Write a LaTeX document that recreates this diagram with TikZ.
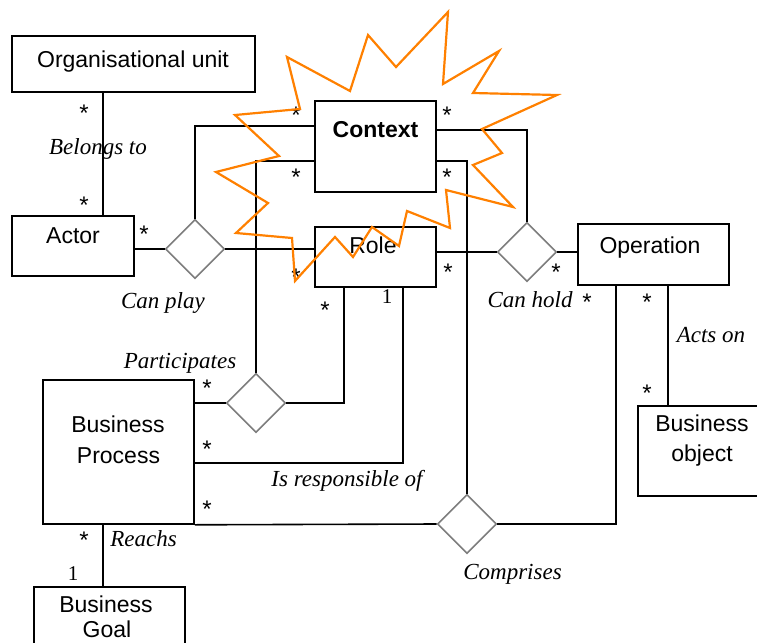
\documentclass[tikz,border=0pt]{standalone}
\usepackage{fontspec}
\setmainfont{Liberation Sans}
\newfontfamily\labfont{Liberation Serif}
\usetikzlibrary{shapes.geometric,calc}
\definecolor{burst}{RGB}{255,128,0}
\definecolor{dgray}{RGB}{125,125,125}
\begin{document}
\begin{tikzpicture}[x=1pt,y=-1pt,
  box/.style={draw, line width=1.6pt, rectangle, inner sep=0pt},
  rel/.style={draw=dgray, line width=1.6pt, diamond, inner sep=0pt, minimum width=59pt, minimum height=59pt},
  conn/.style={line width=1.6pt},
  btext/.style={font=\fontsize{23}{28}\selectfont, anchor=base, inner sep=0pt},
  lab/.style={font={\labfont\itshape\fontsize{23}{28}\selectfont}, anchor=base, inner sep=0pt},
  mult/.style={font=\fontsize{24}{28}\selectfont, anchor=base, inner sep=0pt, yshift=-13.5pt},
  one/.style={font={\labfont\fontsize{21}{24}\selectfont}, anchor=base, inner sep=0pt}
]
\useasboundingbox (0,0) rectangle (757,642);
% boxes
\node[box, minimum width=243pt, minimum height=56pt] (org) at (133.5,64) {};
\node[box, minimum width=122pt, minimum height=60pt] (actor) at (73,246) {};
\node[box, minimum width=121pt, minimum height=91pt] (context) at (375.5,146.5) {};
\node[box, minimum width=121pt, minimum height=60pt] (role) at (375.5,257) {};
\node[box, minimum width=151pt, minimum height=61pt] (operation) at (653.5,254.5) {};
\node[box, minimum width=128pt, minimum height=90pt] (bobject) at (702,451) {};
\node[box, minimum width=151pt, minimum height=144pt] (bprocess) at (118.5,452) {};
\node[box, minimum width=151pt, minimum height=63pt] (bgoal) at (109.5,618.5) {};
% box texts
\node[btext] (t-org) at (133,67) {Organisational unit};
\node[btext] (t-actor) at (73,243) {Actor};
\node[btext, font=\fontsize{23}{28}\selectfont\bfseries] (t-context) at (375.5,137) {Context};
\node[btext] (t-role) at (373,253) {Role};
\node[btext] (t-op) at (650,253) {Operation};
\node[btext] (t-bo1) at (702,431) {Business};
\node[btext] (t-bo2) at (702,461) {object};
\node[btext] (t-bp1) at (118,432) {Business};
\node[btext] (t-bp2) at (118.5,463) {Process};
\node[btext] (t-bg1) at (106,612) {Business};
\node[btext] (t-bg2) at (107,637) {Goal};
% relation diamonds
\node[rel] (canplay) at (195,249) {};
\node[rel] (canhold) at (527,252) {};
\node[rel] (particip) at (256,403) {};
\node[rel] (comprises) at (467,524) {};
% connectors
\coordinate (xa) at (103,0);
\coordinate (xo) at (668,0);
\draw[conn] (org.south -| xa) -- (actor.north -| xa);
\draw[conn] (canplay.west -| actor.east) -- (canplay.west);
\draw[conn] (canplay.east) -- (canplay.east -| role.west);
\draw[conn] (canplay.north) |- ($(context.north west)+(0,26)$);
\draw[conn] ($(context.north west)+(0,61)$) -| (particip.north);
\draw[conn] ($(role.south west)+(30,0)$) |- (particip.east);
\draw[conn] ($(role.south west)+(89,0)$) |- ($(bprocess.north east)+(0,84)$);
\draw[conn] ($(context.north east)+(0,30)$) -| (canhold.north);
\draw[conn] ($(context.north east)+(0,61)$) -| (comprises.north);
\draw[conn] (canhold.west -| role.east) -- (canhold.west);
\draw[conn] (canhold.east) -- (canhold.east -| operation.west);
\draw[conn] ($(operation.south west)+(39,0)$) |- (comprises.east);
\draw[conn] (operation.south -| xo) -- (bobject.north -| xo);
\draw[conn] (particip.west -| bprocess.east) -- (particip.west);
\draw[conn] (bprocess.south east) -- (comprises.west);
\draw[conn] (bprocess.south -| xa) -- (bgoal.north -| xa);
% labels
\node[lab] (l-belongs) at (98,154) {Belongs to};
\node[lab] (l-canplay) at (163,308) {Can play};
\node[lab] (l-canhold) at (530,307) {Can hold};
\node[lab] (l-actson) at (711,342) {Acts on};
\node[lab] (l-particip) at (180,368) {Participates};
\node[lab] (l-resp) at (347,486) {Is responsible of};
\node[lab] (l-reachs) at (143.5,546) {Reachs};
\node[lab] (l-comprises) at (512.5,579) {Comprises};
% multiplicities
\node[mult] (m1) at (84,108) {*};
\node[mult] (m2) at (84,200) {*};
\node[mult] (m3) at (144,229) {*};
\node[mult] (m4) at (296,110) {*};
\node[mult] (m5) at (296,172) {*};
\node[mult] (m6) at (447,110) {*};
\node[mult] (m7) at (447,172) {*};
\node[mult] (m8) at (296,272) {*};
\node[mult] (m9) at (448,267) {*};
\node[mult] (m10) at (325,305) {*};
\node[mult] (m11) at (556,267) {*};
\node[mult] (m12) at (587,297) {*};
\node[mult] (m13) at (647,297) {*};
\node[mult] (m14) at (647,388) {*};
\node[mult] (m15) at (207,383) {*};
\node[mult] (m16) at (207,444) {*};
\node[mult] (m17) at (207,504) {*};
\node[mult] (m18) at (84,535) {*};
\node[one] (o1) at (387,303) {1};
\node[one] (o2) at (73,580) {1};
% starburst
\draw[burst, line width=2.2pt, line join=miter] (448,12) -- (443,84) -- (499,51) -- (473,93) -- (557,95) -- (482,129) -- (502,153) -- (473,165) -- (513,207) -- (446,190) -- (450,228) -- (407,211) -- (399,246) -- (372,227) -- (353,257) -- (335,237) -- (295,281) -- (292,238) -- (236,233) -- (268,203) -- (216,172) -- (279,156) -- (235,115) -- (300,109) -- (287,57) -- (350,91) -- (368,35) -- (396,67) -- cycle;
\end{tikzpicture}
\end{document}
